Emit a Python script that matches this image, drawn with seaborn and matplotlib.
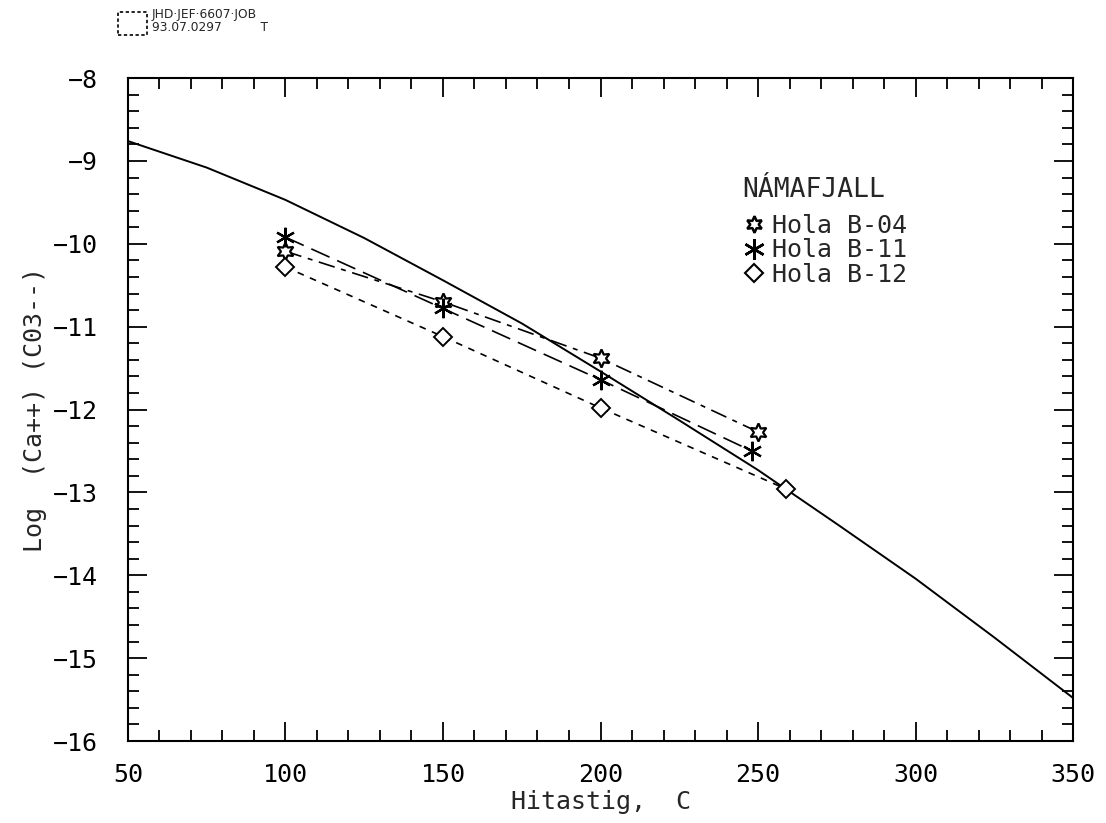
import matplotlib
matplotlib.use("Agg")
import matplotlib.pyplot as plt
from matplotlib.lines import Line2D
from matplotlib.patches import Rectangle
from matplotlib.ticker import MultipleLocator
import seaborn as sns

# Kurfa (jafnvaegi kalsits)
kurfa_t = [50, 75, 100, 125, 150, 175, 200, 225, 250, 275, 300, 325, 350]
kurfa_log = [-8.76, -9.08, -9.47, -9.93, -10.44, -10.96, -11.54, -12.13, -12.73, -13.38, -14.04, -14.75, -15.48]

# Holur
b04_t = [100, 150, 200, 250]
b04_log = [-10.09, -10.70, -11.38, -12.27]
b11_t = [100, 150, 200, 248]
b11_log = [-9.92, -10.78, -11.64, -12.50]
b12_t = [100, 150, 200, 259]
b12_log = [-10.28, -11.12, -11.98, -12.96]

sns.set_style("ticks")
plt.rcParams["font.family"] = ["DejaVu Sans Mono", "DejaVu Sans"]

fig = plt.figure(figsize=(11.06, 8.23), dpi=100)
ax = fig.add_axes([0.1157, 0.0996, 0.8545, 0.8055])

sns.lineplot(x=kurfa_t, y=kurfa_log, ax=ax, color="black", linewidth=1.4, sort=False)

stjarna = (6, 1, 0)
krossur = (6, 2, 0)
sns.lineplot(x=b04_t, y=b04_log, ax=ax, color="black", linewidth=1.2,
             linestyle=(0, (10, 4, 3, 4)), marker=stjarna, markersize=13,
             markerfacecolor="white", markeredgecolor="black", markeredgewidth=1.6, sort=False)
sns.lineplot(x=b11_t, y=b11_log, ax=ax, color="black", linewidth=1.2,
             linestyle=(0, (12, 5)), marker=krossur, markersize=14,
             markeredgecolor="black", markeredgewidth=1.6, sort=False)
sns.lineplot(x=b12_t, y=b12_log, ax=ax, color="black", linewidth=1.2,
             linestyle=(0, (4, 4)), marker="D", markersize=9,
             markerfacecolor="white", markeredgecolor="black", markeredgewidth=1.4, sort=False)

ax.set_xlim(50, 350)
ax.set_ylim(-16, -8)
ax.xaxis.set_major_locator(MultipleLocator(50))
ax.xaxis.set_minor_locator(MultipleLocator(10))
ax.yaxis.set_major_locator(MultipleLocator(1))
ax.yaxis.set_minor_locator(MultipleLocator(0.2))
ax.tick_params(which="both", direction="in", top=True, right=True, width=1.3, colors="black")
ax.tick_params(which="major", length=14, labelsize=18)
ax.tick_params(axis="x", which="major", pad=16)
ax.tick_params(axis="y", which="major", pad=22)
ax.tick_params(which="minor", length=8)
for s in ax.spines.values():
    s.set_linewidth(1.5)
    s.set_color("black")

ax.set_xlabel("Hitastig,  C", fontsize=18, labelpad=2)
ax.set_ylabel("Log  (Ca++) (C03--)", fontsize=18, labelpad=4)

handles = [
    Line2D([], [], linestyle="none", marker=stjarna, markersize=12, color="black",
           markerfacecolor="white", markeredgewidth=1.8),
    Line2D([], [], linestyle="none", marker=krossur, markersize=15, color="black",
           markeredgewidth=1.8),
    Line2D([], [], linestyle="none", marker="D", markersize=9, color="black",
           markerfacecolor="white", markeredgewidth=1.5),
]
leg = ax.legend(handles, ["Hola B-04", "Hola B-11", "Hola B-12"], title="NÁMAFJALL",
                loc="upper left", bbox_to_anchor=(0.637, 0.87), frameon=False,
                fontsize=18, title_fontsize=19, handletextpad=0.3, labelspacing=0.02,
                borderpad=0, handlelength=0.9)
leg._legend_box.align = "left"
leg._legend_box.sep = 8

# haus
fig.text(0.137, 0.99, "JHD·JEF·6607·JOB\n93.07.0297          T", fontsize=8.8,
         family="DejaVu Sans", va="top", ha="left", linespacing=0.95)
fig.add_artist(Rectangle((0.107, 0.958), 0.026, 0.027, transform=fig.transFigure,
                         fill=False, linestyle=(0, (2, 1.5)), linewidth=1.2, color="black"))

fig.savefig("out.png", dpi=100)
